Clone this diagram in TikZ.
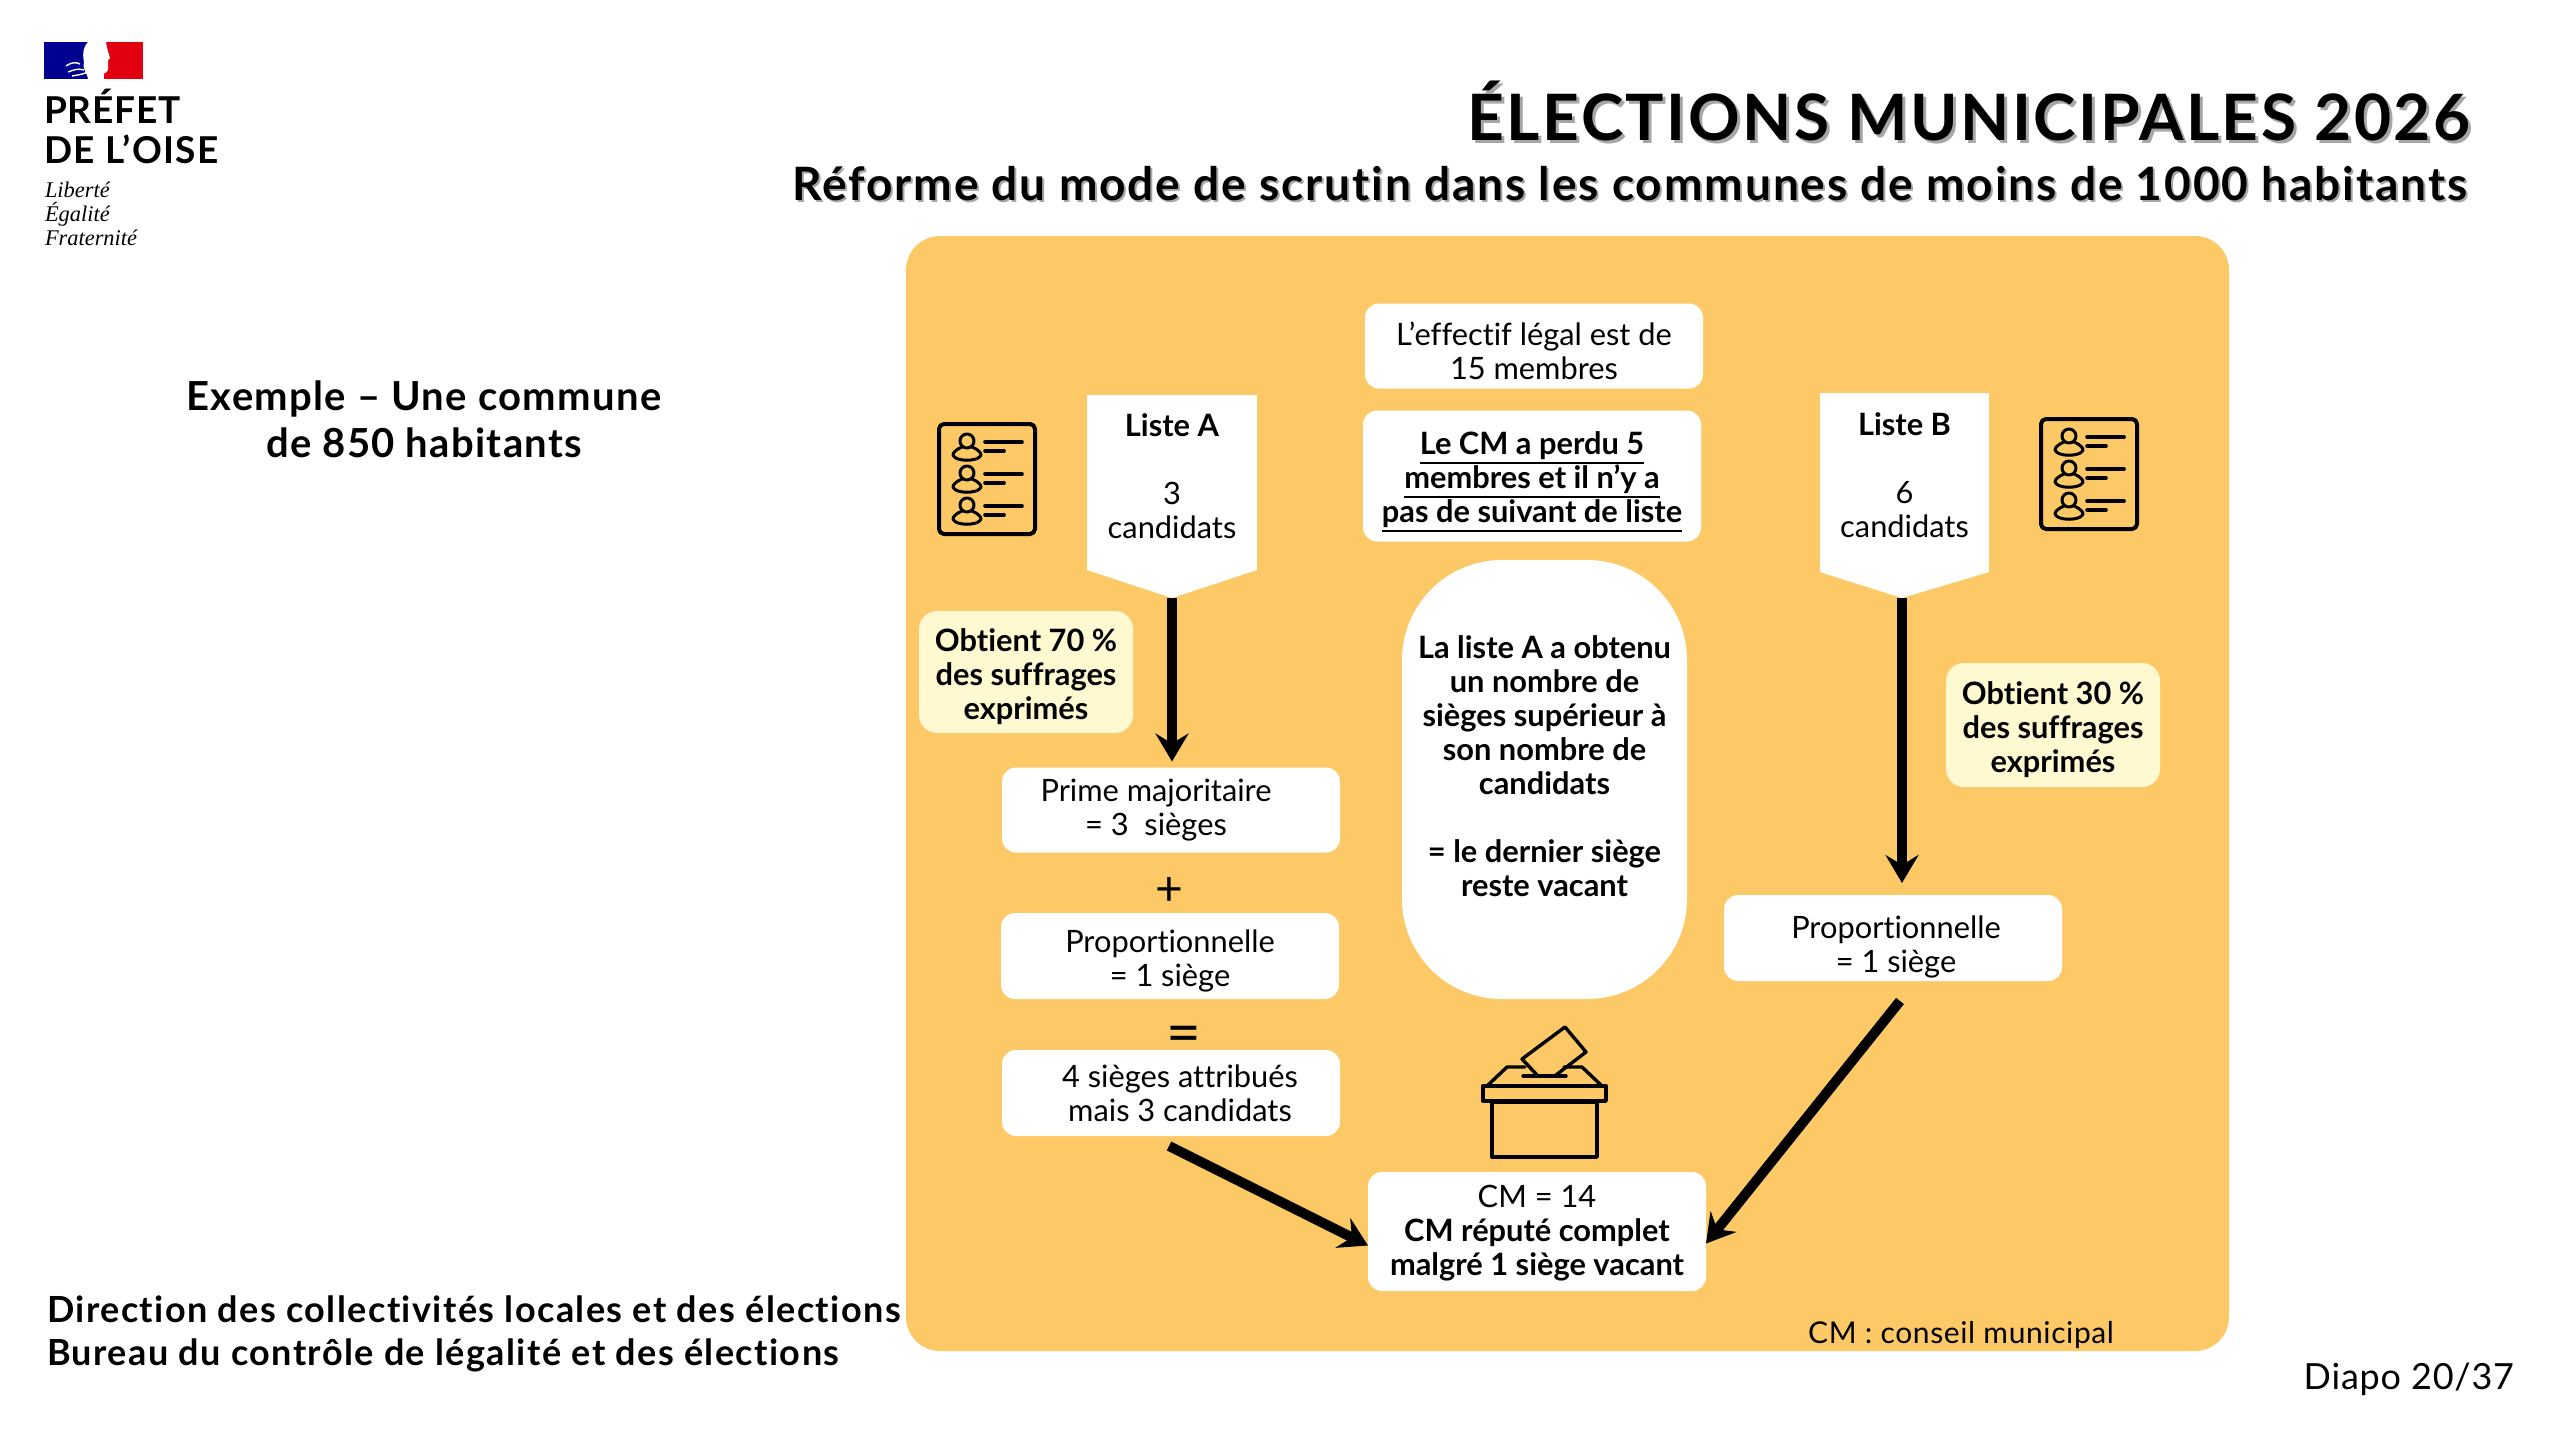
\documentclass[tikz,border=0pt]{standalone}
\usepackage{fontspec}
\setmainfont[Ligatures={TeX,CommonOff}]{Lato}
\newfontfamily\logoserif{Liberation Serif}
\usetikzlibrary{arrows.meta,calc}
\definecolor{panel}{HTML}{FDC967}
\definecolor{pale}{HTML}{FFF9D2}
\definecolor{fblue}{HTML}{000091}
\definecolor{fred}{HTML}{E1000F}
\newcommand{\fsz}[1]{\fontsize{#1}{#1}\selectfont}
\newcommand{\fsl}[2]{\fontsize{#1}{#2}\selectfont}
\newcommand{\lsp}[1]{\addfontfeatures{LetterSpace=#1}}
\newcommand{\ulx}[1]{\vtop{\hbox{#1}\kern1.1pt\hrule height 0.95pt}}
\tikzset{
  x=0.5pt,y=-0.5pt,
  txt/.style={inner sep=0pt,outer sep=0pt,align=center,text=black,font=\fsl{15.4}{17}},
  btxt/.style={txt,font=\bfseries\fsl{15.4}{17}},
  wbox/.style={inner sep=0pt,outer sep=0pt,fill=white,rounded corners=7pt},
  pbox/.style={inner sep=0pt,outer sep=0pt,fill=pale,rounded corners=9pt},
  flow/.style={line width=5pt,draw=black,-{Stealth[length=14pt,width=16.5pt,inset=5pt]}},
  ico/.style={line width=1.7pt,draw=black,line join=round,line cap=round},
  pics/listicon/.style={code={
    \draw[ico,line width=2pt,rounded corners=2.5pt] (0,0) rectangle (96,110);
    \foreach \r in {0,32,64}{
      \draw[ico,line width=1.5pt] (28,{17+\r}) circle[radius=7];
      \draw[ico,line width=1.5pt] (23,{23+\r}) .. controls (16,{26+\r}) and (14,{29+\r}) .. (14,{31+\r})
         .. controls (16,{38+\r}) and (40,{38+\r}) .. (42,{31+\r})
         .. controls (42,{29+\r}) and (40,{26+\r}) .. (33,{23+\r});
      \draw[ico,line width=1.8pt] (46,{18+\r}) -- (83,{18+\r});
      \draw[ico,line width=1.8pt] (46,{27+\r}) -- (65,{27+\r});
    }
  }},
}
\begin{document}
\begin{tikzpicture}
\useasboundingbox (0,0) rectangle (2560,1440);
\fill[white] (0,0) rectangle (2560,1440);
% logo
\fill[fblue] (44,42) rectangle (92,79);
\fill[fred] (104,42) rectangle (143,79);
\fill[white] (88,42) -- (106,42) .. controls (107,50) and (109,54) .. (110,58) -- (108,60) -- (108,70)
  .. controls (106,74) and (102,74) .. (99,76) -- (98,79) -- (88,79) .. controls (88,74) and (82,70) .. (84,62) .. controls (82,52) and (84,46) .. (88,42) -- cycle;
\draw[white,line width=.7pt] (66,66) .. controls (72,62) and (76,62) .. (80,64) (68,72) .. controls (74,70) and (78,68) .. (84,70) (72,76) .. controls (78,75) and (84,74) .. (88,72);
\node[txt,anchor=base west,font=\bfseries\fsz{18.5}\lsp{2.5}] (logoa) at (44,123) {PRÉFET};
\node[txt,anchor=base west,font=\bfseries\fsz{18.5}\lsp{4}] (logob) at (44,163) {DE L’OISE};
\node[txt,anchor=base west,font=\logoserif\itshape\fsz{11.2}] (logoc) at (45,197) {Liberté};
\node[txt,anchor=base west,font=\logoserif\itshape\fsz{11.2}] (logod) at (45,221) {Égalité};
\node[txt,anchor=base west,font=\logoserif\itshape\fsz{11.2}] (logoe) at (45,245) {Fraternité};
% titles
\node[txt,anchor=base east,font=\bfseries\fsz{32}\lsp{3.9},text=black!35] (titleshadow) at (2473,143) {ÉLECTIONS MUNICIPALES 2026};
\node[txt,anchor=base east,font=\bfseries\fsz{32}\lsp{3.9}] (title) at (2470,140) {ÉLECTIONS MUNICIPALES 2026};
\node[txt,anchor=base east,font=\bfseries\fsz{23}\lsp{4.2},text=black!35] (subshadow) at (2469,202) {Réforme du mode de scrutin dans les communes de moins de 1000 habitants};
\node[txt,anchor=base east,font=\bfseries\fsz{23}\lsp{4.2}] (sub) at (2467,200) {Réforme du mode de scrutin dans les communes de moins de 1000 habitants};
% left
\node[txt,font=\bfseries\fsl{20}{23.5}\lsp{3.3}] (ex) at (424,419) {Exemple – Une commune\\de 850 habitants};
\node[txt,anchor=base west,font=\bfseries\fsz{18}\lsp{3.95}] (dir1) at (47,1322) {Direction des collectivités locales et des élections};
\node[txt,anchor=base west,font=\bfseries\fsz{18}\lsp{3.95}] (dir2) at (47,1365) {Bureau du contrôle de légalité et des élections};
\node[txt,anchor=base east,font=\fsz{18}\lsp{2.2}] (diapo) at (2514,1389) {Diapo 20/37};
% panel
\fill[panel,rounded corners=17pt] (906,236) rectangle (2229,1351);
\node[txt,font=\fsz{15}\lsp{2}] (cmnote) at (1961,1335) {CM : conseil municipal};
% boxes
\node[wbox,minimum width=169pt,minimum height=42.5pt] (eff) at (1534,346) {};
\node[txt] (efft) at ([shift={(0,5)}]eff) {L’effectif légal est de\\15 membres};
\node[wbox,minimum width=169pt,minimum height=65.5pt] (perdu) at (1532,476) {};
\node[btxt] (perdut) at ([shift={(0,6)}]perdu) {\ulx{Le CM a perdu 5}\\\ulx{membres et il n’y a}\\\ulx{pas de suivant de liste}};
% liste A / B
\node[inner sep=0pt,outer sep=0pt,fill=white,minimum width=85pt,minimum height=87.5pt] (la) at (1172,482.5) {};
\coordinate (tipa) at (1172,598);
\fill[white] (la.south west) -- (la.south east) -- (tipa) -- cycle;
\node[txt] (lat) at ([shift={(0,-6)}]la) {\textbf{Liste A}\\[17pt]3\\candidats};
\node[inner sep=0pt,outer sep=0pt,fill=white,minimum width=84.5pt,minimum height=89.5pt] (lb) at (1904.5,482.5) {};
\coordinate (tipb) at (1902,598);
\fill[white] (lb.south west) -- (lb.south east) -- (tipb) -- cycle;
\node[txt] (lbt) at ([shift={(0,-7)}]lb) {\textbf{Liste B}\\[17pt]6\\candidats};
\pic at (939,424) {listicon};
\pic at (2041,419) {listicon};
\node[pbox,minimum width=107pt,minimum height=61pt] (o70) at (1026,672) {};
\node[btxt] (o70t) at ([shift={(0,5)}]o70) {Obtient 70 \%\\des suffrages\\exprimés};
\node[pbox,minimum width=107pt,minimum height=62pt] (o30) at (2053,725) {};
\node[btxt] (o30t) at ([shift={(0,5)}]o30) {Obtient 30 \%\\des suffrages\\exprimés};
\node[wbox,minimum width=169pt,minimum height=42.5pt] (prime) at (1171,810) {};
\node[txt] (primet) at ([shift={(-15,0)}]prime) {Prime majoritaire\\= 3~ sièges};
\node[txt,font=\fsz{24}] (plus) at (1169,891) {+};
\node[wbox,minimum width=169pt,minimum height=43pt] (propa) at (1170,956) {};
\node[txt] (propat) at ([shift={(0,5)}]propa) {Proportionnelle\\= 1 siège};
\node[txt,font=\fsz{30}] (eq) at (1184,1040) {=};
\node[wbox,minimum width=169pt,minimum height=43pt] (quatre) at (1171,1093) {};
\node[txt] (quatret) at ([shift={(9,0)}]quatre) {4 sièges attribués\\mais 3 candidats};
\node[wbox,minimum width=169pt,minimum height=43pt] (propb) at (1893,938) {};
\node[txt] (propbt) at ([shift={(3,9)}]propb) {Proportionnelle\\= 1 siège};
\node[inner sep=0pt,outer sep=0pt,fill=white,rounded corners=50pt,minimum width=142.5pt,minimum height=219.5pt] (caps) at (1544.5,779.5) {};
\node[btxt] (capst) at ([shift={(0,-13)}]caps) {La liste A a obtenu\\un nombre de\\sièges supérieur à\\son nombre de\\candidats\\[17pt]= le dernier siège\\reste vacant};
\node[wbox,minimum width=169pt,minimum height=59.5pt] (cm) at (1537,1231.5) {};
\node[txt] (cmt) at ([shift={(0,2)}]cm) {CM = 14\\\textbf{CM réputé complet}\\\textbf{malgré 1 siège vacant}};
% ballot box
\draw[ico] (1492,1102) rectangle (1597,1157);
\draw[ico] (1483,1086) rectangle (1606,1101);
\draw[ico] (1487,1086) -- (1507,1067) -- (1525,1067) (1564,1067) -- (1582,1067) -- (1602,1086);
\draw[ico] (1523,1076) -- (1566,1076);
\draw[ico] (1537,1075) -- (1522,1059) -- (1565,1027) -- (1586,1052) -- (1556,1075);
% arrows
\draw[flow,shorten >=3pt] (tipa) -- (tipa |- prime.north);
\draw[flow,shorten >=6pt] (tipb) -- (tipb |- propb.north);
\draw[flow] ([shift={(-2,10)}]quatre.south) -- ([shift={(0,14)}]cm.west);
\draw[flow] ([shift={(7,20)}]propb.south) -- ([shift={(0,12)}]cm.east);
\end{tikzpicture}
\end{document}
